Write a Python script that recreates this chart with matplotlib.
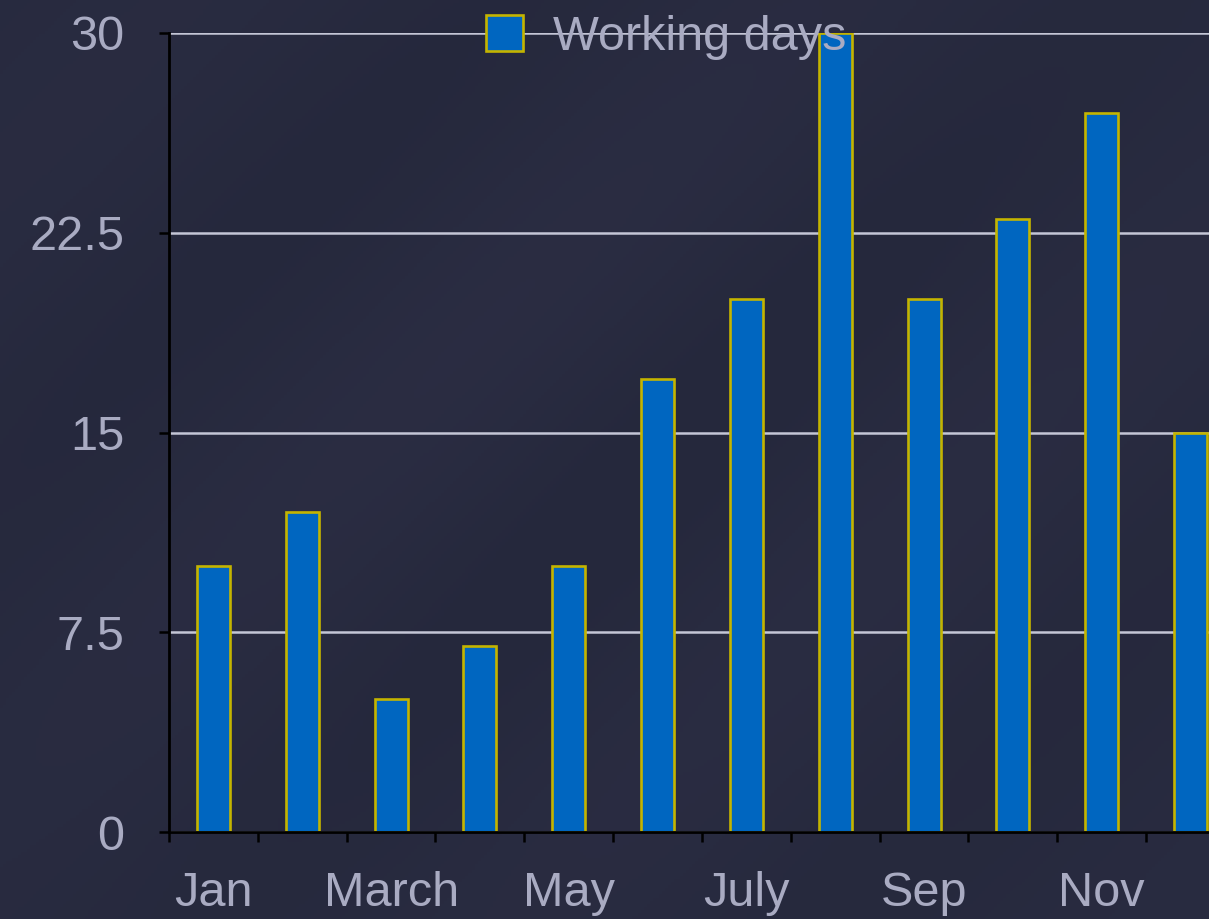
import matplotlib
matplotlib.use("Agg")
import matplotlib.pyplot as plt
import numpy as np
from matplotlib.colors import LinearSegmentedColormap

months = ["Jan", "Feb", "March", "Apr", "May", "Jun", "July", "Aug", "Sep", "Oct", "Nov", "Dec"]
working_days = [10, 12, 5, 7, 10, 17, 20, 30, 20, 23, 27, 15]
y_ticks = [0, 7.5, 15, 22.5, 30]
y_tick_labels = ["0", "7.5", "15", "22.5", "30"]
series_name = "Working days"

plt.rcParams['font.family'] = ['Liberation Sans', 'DejaVu Sans']

BG = "#272a3f"
TXT = "#a9abc2"
GRID = "#c4c6d6"
BAR = "#0066c0"
EDGE = "#c4b400"

W, H = 1209, 919
fig = plt.figure(figsize=(W / 100, H / 100), dpi=100)
fig.patch.set_facecolor(BG)

# subtle diagonal streak texture in background
bgax = fig.add_axes([0, 0, 1, 1], zorder=-10)
bgax.set_axis_off()
yy, xx = np.mgrid[0:1:300j, 0:1:400j]
t = (xx * 1.3 + (1 - yy))
tex = 0.5 + 0.5 * np.sin(t * 9.0) * np.exp(-((xx - 0.5) ** 2 + (yy - 0.55) ** 2) * 2)
cmap = LinearSegmentedColormap.from_list("bg", ["#25283c", "#2c2e44"])
bgax.imshow(tex, cmap=cmap, aspect="auto", extent=[0, 1, 0, 1], origin="lower", vmin=0, vmax=1.3)

left = 169 / W
right = 1235 / W
bottom = (H - 832) / H
top = (H - 33) / H
ax = fig.add_axes([left, bottom, right - left, top - bottom])
ax.set_facecolor("none")

x = np.arange(len(months))
ax.bar(x, working_days, width=0.37, color=BAR, edgecolor=EDGE, linewidth=1.9,
       zorder=3, label=series_name)

ax.set_xlim(-0.5, len(months) - 0.5)
ax.set_ylim(0, 30)

ax.set_yticks(y_ticks)
ax.set_yticklabels(y_tick_labels)
ax.yaxis.grid(True, color=GRID, linewidth=1.8, zorder=1)
ax.set_axisbelow(True)

# category boundary ticks (major) and labels at centers (minor)
ax.set_xticks(np.arange(-0.5, len(months), 1.0))
ax.set_xticklabels([])
ax.set_xticks(x, minor=True)
ax.set_xticklabels([m if i % 2 == 0 else "" for i, m in enumerate(months)], minor=True)
ax.tick_params(axis="x", which="minor", length=0, pad=28, labelsize=35, labelcolor=TXT)
ax.tick_params(axis="x", which="major", length=7, width=1.8, color="black", direction="out")
ax.tick_params(axis="y", length=7, width=1.8, color="black", pad=25, labelsize=35, labelcolor=TXT)

for s in ["top", "right"]:
    ax.spines[s].set_visible(False)
for s in ["left", "bottom"]:
    ax.spines[s].set_color("black")
    ax.spines[s].set_linewidth(2.0)
    ax.spines[s].set_zorder(4)

leg = fig.legend(loc="center left", bbox_to_anchor=(486 / W, 1 - 37 / H),
                 frameon=False, fontsize=35, handlelength=0.76, handleheight=0.76,
                 handletextpad=0.62, borderpad=0, borderaxespad=0)
for txt in leg.get_texts():
    txt.set_color(TXT)
leg.set_zorder(10)

fig.savefig("out.png", dpi=100, facecolor=BG)
